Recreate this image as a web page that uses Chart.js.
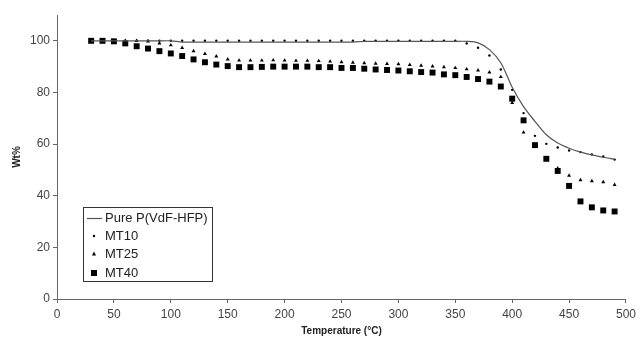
<!DOCTYPE html>
<html>
<head>
<meta charset="utf-8">
<script src="https://cdn.jsdelivr.net/npm/chart.js@4/dist/chart.umd.min.js"></script>
<style>
html, body { margin: 0; padding: 0; background: #fff; }
#wrap { width: 640px; height: 341px; }
</style>
</head>
<body>
<div id="wrap"><canvas id="chart"></canvas></div>
<script>
// temperature steps (°C), one reading every 10 degrees
const temps = [30, 40, 50, 60, 70, 80, 90, 100, 110, 120, 130, 140, 150, 160, 170, 180,
    190, 200, 210, 220, 230, 240, 250, 260, 270, 280, 290, 300, 310, 320, 330, 340,
    350, 360, 370, 380, 390, 400, 410, 420, 430, 440, 450, 460, 470, 480, 490];

const pureValues = [100, 100, 100, 100, 100, 100, 100, 100, 99.5, 99.5, 99.5, 99.5, 99.5, 99.5, 99.5, 99.5,
    99.5, 99.5, 99.5, 99.5, 99.5, 99.5, 99.5, 99.5, 99.8, 99.8, 99.8, 99.8, 99.8, 99.8, 99.8, 99.8,
    99.8, 99.8, 99.2, 96.6, 91.5, 82, 74.5, 68.8, 63.6, 60.4, 58.4, 56.9, 55.8, 54.9, 54.1];

const mt10Values = [100, 100, 100, 100, 100, 100, 100, 100, 100, 100, 100, 100, 100, 100, 100, 100,
    100, 100, 100, 100, 100, 100, 100, 100, 100, 100, 100, 100, 100, 100, 100, 100,
    100, 99, 97.3, 94.3, 88.9, 81, 72, 63.2, 60.1, 58.7, 57.5, 56.9, 56, 55.2, 54];

const mt25Values = [100, 100, 100, 100, 100, 99.8, 99, 98.3, 97.3, 96, 95, 94, 92.8, 92.4, 92.4, 92.4,
    92.5, 92.4, 92.3, 92.3, 92.2, 92, 91.8, 91.6, 91.4, 91.2, 91.1, 91, 90.7, 90.4, 90.1, 89.8,
    89.5, 89, 88.6, 87.8, 86, 76, 64.5, 59.5, 54.1, 50.6, 47.8, 46.1, 45.7, 45.3, 44.2];

const mt40Values = [100, 100, 99.8, 99, 97.9, 97, 96, 95.1, 94.1, 92.8, 91.7, 90.8, 90.2, 89.8, 89.8, 89.9,
    90, 90, 90, 90, 89.8, 89.8, 89.5, 89.5, 89.2, 88.9, 88.7, 88.5, 88.2, 87.9, 87.7, 87,
    86.7, 86, 85.2, 84.2, 82.3, 77.6, 69.2, 59.6, 54.3, 49.6, 43.8, 37.8, 35.5, 34.3, 33.9];

const seriesLabels = ["Pure P(VdF-HFP)", "MT10", "MT25", "MT40"];
const yTicks = [0, 20, 40, 60, 80, 100];

function toPoints(values) {
    return temps.map((t, i) => ({ x: t, y: values[i] }));
}

const FONT = "'Liberation Sans', Arial, sans-serif";

// boxed legend inside the plot, lower left
const boxLegend = {
    id: "boxLegend",
    afterDraw(chart) {
        const ctx = chart.ctx;
        const left = 83, top = 207, w = 129, h = 74;
        ctx.save();
        ctx.strokeStyle = "#333";
        ctx.lineWidth = 1;
        ctx.strokeRect(left + 0.5, top + 0.5, w, h);
        const rows = [218, 236, 254, 273];
        ctx.font = "13px " + FONT;
        ctx.textBaseline = "middle";
        ctx.fillStyle = "#222";
        chart.data.datasets.forEach((ds, i) => {
            const y = rows[i];
            ctx.fillStyle = "#000";
            ctx.strokeStyle = "#555";
            if (i === 0) {
                ctx.beginPath();
                ctx.moveTo(87, y + 0.5);
                ctx.lineTo(102, y + 0.5);
                ctx.lineWidth = 1.2;
                ctx.stroke();
            } else if (ds.pointStyle === "circle") {
                ctx.beginPath();
                ctx.arc(94, y, 1.2, 0, Math.PI * 2);
                ctx.fill();
            } else if (ds.pointStyle === "triangle") {
                ctx.beginPath();
                ctx.moveTo(94, y - 2.5);
                ctx.lineTo(96, y + 1.5);
                ctx.lineTo(92, y + 1.5);
                ctx.closePath();
                ctx.fill();
            } else {
                ctx.fillRect(91, y - 3, 6, 6);
            }
            ctx.fillStyle = "#222";
            ctx.fillText(ds.label, 105, y);
        });
        ctx.restore();
    }
};

new Chart(document.getElementById("chart"), {
    type: "scatter",
    data: {
        datasets: [
            {
                label: seriesLabels[0],
                data: toPoints(pureValues),
                showLine: true,
                borderColor: "#555",
                borderWidth: 1.2,
                pointRadius: 0,
                tension: 0.3
            },
            {
                label: seriesLabels[1],
                data: toPoints(mt10Values),
                pointStyle: "circle",
                pointRadius: 1.2,
                backgroundColor: "#000",
                borderWidth: 0
            },
            {
                label: seriesLabels[2],
                data: toPoints(mt25Values),
                pointStyle: "triangle",
                pointRadius: 2.3,
                backgroundColor: "#000",
                borderWidth: 0
            },
            {
                label: seriesLabels[3],
                data: toPoints(mt40Values),
                pointStyle: "rect",
                pointRadius: 4.2,
                backgroundColor: "#000",
                borderWidth: 0
            }
        ]
    },
    options: {
        responsive: true,
        maintainAspectRatio: false,
        animation: false,
        layout: {
            autoPadding: false,
            padding: { top: 15, right: 9, left: 0, bottom: 0 }
        },
        plugins: {
            legend: { display: false },
            tooltip: { enabled: false }
        },
        scales: {
            x: {
                type: "linear",
                min: 0,
                max: 500,
                ticks: { stepSize: 50, color: "#444", font: { family: FONT, size: 12 }, padding: 4, maxRotation: 0 },
                grid: { drawOnChartArea: false, drawTicks: true, tickLength: 4, color: "#666" },
                border: { color: "#666", width: 1 },
                title: {
                    display: true,
                    text: "Temperature (°C)",
                    color: "#222",
                    font: { family: FONT, size: 10, weight: "bold" },
                    padding: { top: 0, bottom: 4 }
                },
                afterFit: s => { s.height = 42; }
            },
            y: {
                min: 0,
                max: 110,
                afterBuildTicks: s => { s.ticks = yTicks.map(v => ({ value: v })); },
                ticks: { color: "#444", font: { family: FONT, size: 12 }, padding: 3 },
                grid: { drawOnChartArea: false, drawTicks: true, tickLength: 4, color: "#666" },
                border: { color: "#666", width: 1 },
                title: {
                    display: true,
                    text: "Wt%",
                    color: "#222",
                    font: { family: FONT, size: 10, weight: "bold" },
                    padding: { top: 11, bottom: 0 }
                },
                afterFit: s => { s.width = 57; }
            }
        }
    },
    plugins: [boxLegend]
});
</script>
</body>
</html>
